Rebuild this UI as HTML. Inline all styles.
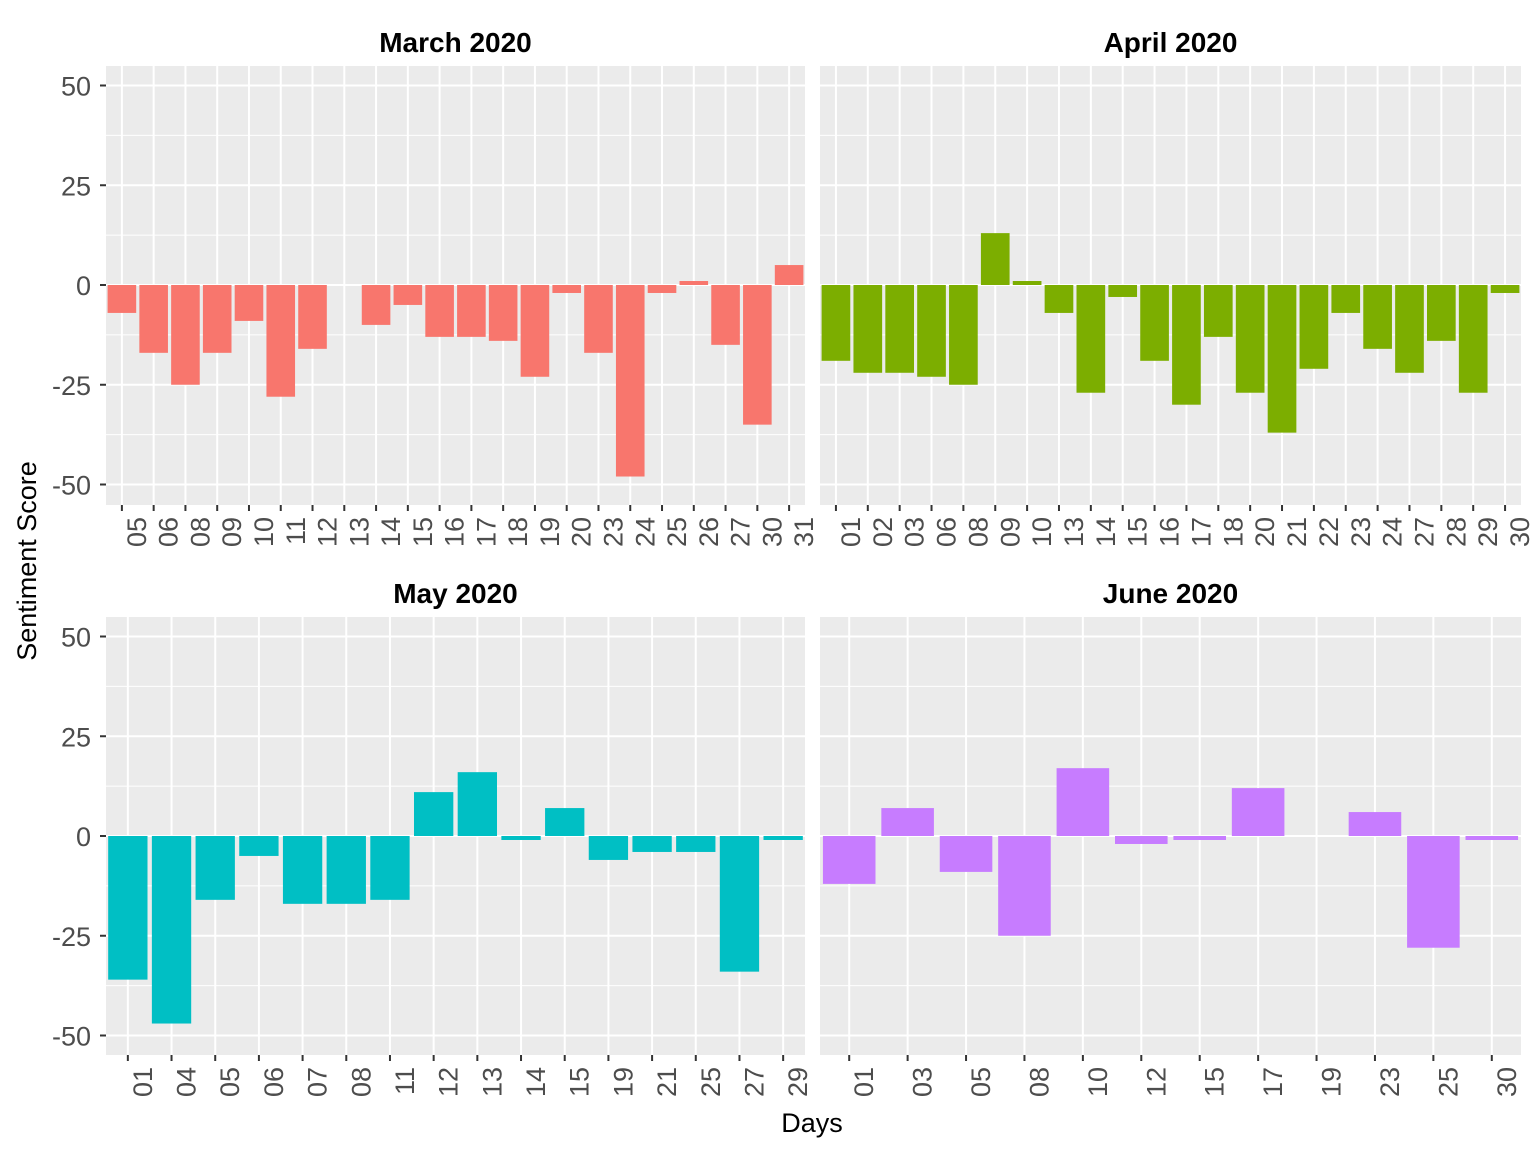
<!DOCTYPE html>
<html><head><meta charset="utf-8"><style>
html,body{margin:0;padding:0;background:#fff;}
svg{display:block;font-family:"Liberation Sans",Arial,sans-serif;}
</style></head><body>
<svg id="chart" width="1536" height="1152" viewBox="0 0 1536 1152"></svg>
<script>
const marchDays=["05","06","08","09","10","11","12","13","14","15","16","17","18","19","20","23","24","25","26","27","30","31"];
const marchValues=[-7,-17,-25,-17,-9,-28,-16,0,-10,-5,-13,-13,-14,-23,-2,-17,-48,-2,1,-15,-35,5];
const aprilDays=["01","02","03","06","08","09","10","13","14","15","16","17","18","20","21","22","23","24","27","28","29","30"];
const aprilValues=[-19,-22,-22,-23,-25,13,1,-7,-27,-3,-19,-30,-13,-27,-37,-21,-7,-16,-22,-14,-27,-2];
const mayDays=["01","04","05","06","07","08","11","12","13","14","15","19","21","25","27","29"];
const mayValues=[-36,-47,-16,-5,-17,-17,-16,11,16,-1,7,-6,-4,-4,-34,-1];
const juneDays=["01","03","05","08","10","12","15","17","19","23","25","30"];
const juneValues=[-12,7,-9,-25,17,-2,-1,12,0,6,-28,-1];
const yTicks=[-50,-25,0,25,50];
const yMinor=[-37.5,-12.5,12.5,37.5];
const titles=["March 2020","April 2020","May 2020","June 2020"];

const svg=document.getElementById('chart');
const NS="http://www.w3.org/2000/svg";
function mk(tag,attrs,parent){const e=document.createElementNS(NS,tag);for(const k in attrs)e.setAttribute(k,attrs[k]);(parent||svg).appendChild(e);return e;}

const panels=[
 {x0:106,x1:805,y0:66,y1:505,zero:285,days:marchDays,vals:marchValues,color:"#F8766D",title:titles[0],left:true,key:"march"},
 {x0:820,x1:1521,y0:66,y1:505,zero:285,days:aprilDays,vals:aprilValues,color:"#7CAE00",title:titles[1],left:false,key:"april"},
 {x0:106,x1:805,y0:617,y1:1055,zero:836,days:mayDays,vals:mayValues,color:"#00BFC4",title:titles[2],left:true,key:"may"},
 {x0:820,x1:1521,y0:617,y1:1055,zero:836,days:juneDays,vals:juneValues,color:"#C77CFF",title:titles[3],left:false,key:"june"}
];
const pxPerUnit=3.99;

panels.forEach(p=>{
 const g=mk('g',{});
 
 
 const bg=mk('rect',{x:p.x0,y:p.y0,width:p.x1-p.x0,height:p.y1-p.y0,fill:"#EBEBEB"},g);
 
 
 const yS=v=>p.zero-v*pxPerUnit;
 const n=p.days.length, bw=(p.x1-p.x0)/n;
 const xS=i=>p.x0+bw*(i+0.5);
 yMinor.forEach(v=>mk('line',{x1:p.x0,x2:p.x1,y1:yS(v),y2:yS(v),stroke:"#fff","stroke-width":1},g));
 yTicks.forEach(v=>mk('line',{x1:p.x0,x2:p.x1,y1:yS(v),y2:yS(v),stroke:"#fff","stroke-width":2},g));
 p.days.forEach((d,i)=>mk('line',{x1:xS(i),x2:xS(i),y1:p.y0,y2:p.y1,stroke:"#fff","stroke-width":2},g));
 p.vals.forEach((v,i)=>{
  const w=bw*0.9;
  const top=Math.min(yS(v),yS(0)), h=Math.abs(yS(v)-yS(0));
  const r=mk('rect',{x:xS(i)-w/2,y:top,width:w,height:h,fill:p.color},g);
  
  
 });
 p.days.forEach((d,i)=>{
  mk('line',{x1:xS(i),x2:xS(i),y1:p.y1,y2:p.y1+6,stroke:"#333","stroke-width":2},g);
  const t=mk('text',{x:0,y:0,transform:`translate(${xS(i)+24},${p.y1+12}) rotate(-90)`,"text-anchor":"end","font-size":27,fill:"#4D4D4D"},g);
  t.textContent=d;
  
  
 });
 if(p.left){
  yTicks.forEach(v=>{
   mk('line',{x1:p.x0-6,x2:p.x0,y1:yS(v),y2:yS(v),stroke:"#333","stroke-width":2},g);
   const t=mk('text',{x:p.x0-15,y:yS(v)+10,"text-anchor":"end","font-size":27,fill:"#4D4D4D"},g);
   t.textContent=v;
   
   
  });
 }
 const tt=mk('text',{x:(p.x0+p.x1)/2,y:p.y0-14,"text-anchor":"middle","font-size":28,"font-weight":"bold",fill:"#000"},g);
 tt.textContent=p.title;
 
 
});
const yt=mk('text',{transform:"translate(36,561) rotate(-90)","text-anchor":"middle","font-size":27,fill:"#000"});
yt.textContent="Sentiment Score";


const xt=mk('text',{x:812,y:1132,"text-anchor":"middle","font-size":27,fill:"#000"});
xt.textContent="Days";


</script>
</body></html>
